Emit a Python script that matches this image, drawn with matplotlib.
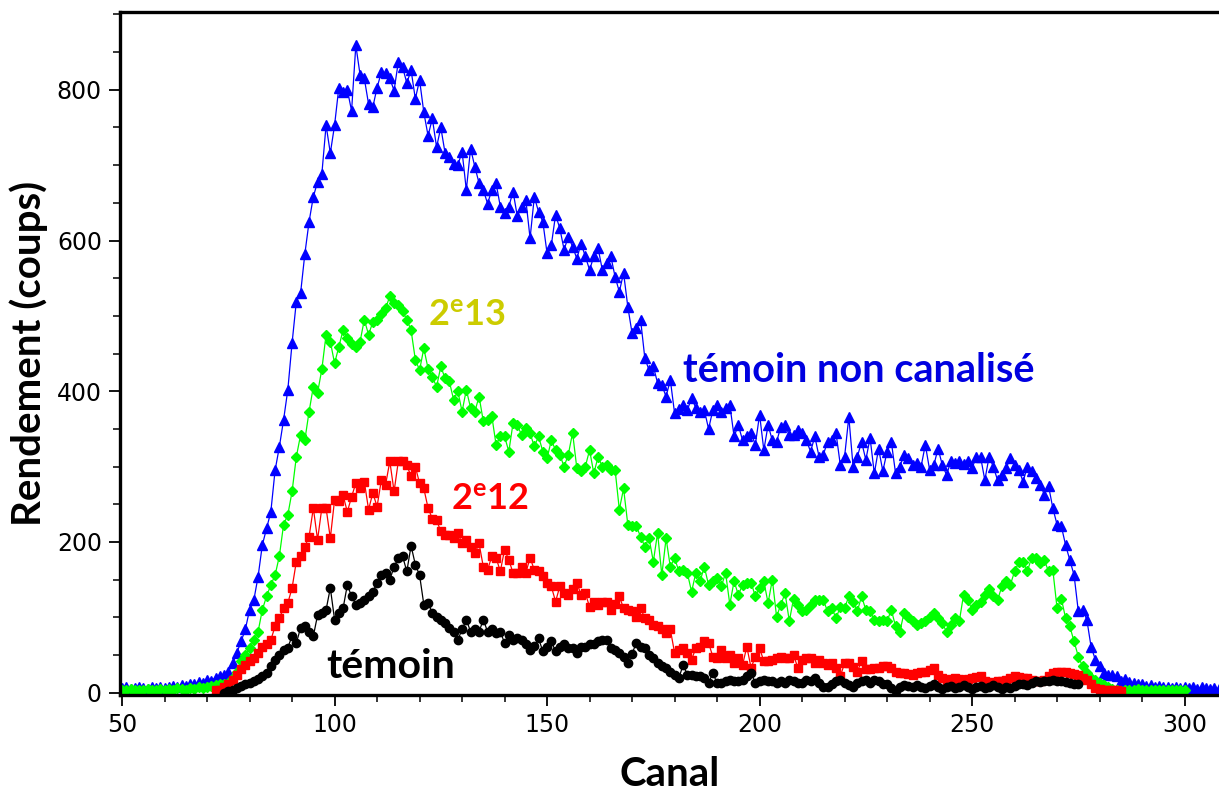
import numpy as np
import matplotlib
matplotlib.use("Agg")
import matplotlib.pyplot as plt
from matplotlib.ticker import MultipleLocator

# rendement par canal (lecture du graphe), un point par canal
blue_start = 50
blue = [6, 7, 5, 6, 7, 6, 5, 7, 6, 8,
        6, 7, 9, 8, 10, 9, 12, 11, 14, 13,
        17, 16, 20, 22, 24, 28, 39, 53, 68, 84,
        110, 123, 154, 196, 218, 240, 295, 326, 362, 402,
        464, 519, 530, 582, 625, 658, 678, 688, 753, 716,
        753, 803, 797, 800, 772, 859, 820, 815, 781, 777,
        803, 823, 822, 815, 799, 837, 830, 809, 826, 788,
        813, 770, 739, 762, 724, 750, 716, 711, 702, 700,
        718, 667, 722, 698, 676, 667, 649, 667, 676, 645,
        636, 645, 665, 632, 645, 654, 603, 658, 638, 625,
        583, 594, 634, 616, 588, 605, 592, 576, 596, 579,
        561, 579, 590, 561, 570, 579, 552, 532, 557, 512,
        477, 484, 495, 444, 428, 433, 411, 408, 393, 415,
        371, 376, 382, 375, 391, 378, 373, 375, 350, 375,
        382, 373, 378, 382, 340, 355, 335, 340, 344, 329,
        369, 322, 355, 335, 333, 353, 355, 342, 342, 349,
        344, 335, 320, 340, 313, 316, 333, 335, 344, 302,
        313, 366, 300, 313, 333, 309, 338, 291, 324, 294,
        320, 333, 291, 300, 316, 311, 302, 305, 300, 329,
        296, 302, 324, 302, 289, 307, 305, 307, 303, 307,
        298, 313, 313, 282, 313, 300, 282, 289, 298, 311,
        302, 296, 280, 300, 294, 285, 276, 263, 274, 245,
        223, 221, 196, 176, 156, 108, 110, 97, 61, 44,
        35, 26, 24, 23, 22, 16, 18, 14, 13, 11,
        12, 9, 10, 8, 9, 7, 8, 6, 7, 6,
        8, 6, 7, 5, 7, 6, 5, 6, 5]

green_start = 50
green = [4, 3, 5, 4, 3, 4, 5, 3, 4, 5,
         4, 5, 4, 6, 5, 4, 6, 5, 7, 6,
         8, 9, 10, 11, 12, 13, 20, 28, 42, 50,
         59, 70, 81, 110, 128, 143, 156, 181, 223, 236,
         267, 313, 342, 335, 373, 406, 398, 429, 475, 466,
         437, 459, 481, 470, 463, 459, 466, 495, 475, 492,
         495, 503, 510, 526, 517, 515, 506, 495, 481, 442,
         428, 457, 430, 419, 406, 433, 417, 413, 389, 400,
         373, 402, 378, 373, 393, 360, 362, 367, 329, 340,
         340, 320, 358, 355, 342, 351, 344, 327, 340, 320,
         311, 335, 322, 316, 300, 316, 345, 298, 294, 300,
         322, 291, 313, 300, 302, 296, 296, 243, 271, 223,
         221, 221, 207, 194, 205, 174, 212, 156, 205, 167,
         179, 161, 163, 159, 134, 159, 148, 167, 143, 148,
         152, 141, 159, 117, 148, 130, 143, 146, 146, 128,
         139, 148, 119, 150, 101, 117, 132, 95, 125, 117,
         108, 110, 117, 123, 123, 123, 108, 112, 99, 114,
         112, 128, 121, 108, 128, 110, 108, 97, 95, 97,
         95, 110, 88, 81, 106, 101, 95, 90, 92, 95,
         100, 106, 99, 92, 81, 90, 99, 95, 130, 123,
         110, 117, 121, 130, 137, 128, 123, 141, 148, 143,
         161, 173, 174, 161, 179, 179, 172, 176, 161, 163,
         112, 125, 99, 88, 68, 48, 35, 26, 20, 17,
         13, 10, 8, 5, 3, 2, 3, 4, 3, 5,
         3, 4, 3, 4, 3, 4, 3, 3, 4, 3,
         3]

red_start = 72
red = [3, 4, 8, 11, 17, 24, 31, 37,
       42, 46, 53, 61, 64, 70, 88, 99, 112, 119,
       139, 174, 181, 194, 207, 245, 203, 245, 245, 205,
       256, 254, 262, 240, 260, 278, 271, 280, 243, 265,
       247, 282, 276, 307, 267, 307, 307, 302, 287, 300,
       278, 271, 245, 231, 229, 214, 209, 209, 205, 212,
       198, 203, 194, 185, 198, 167, 163, 181, 179, 161,
       190, 176, 159, 159, 167, 159, 179, 163, 161, 155,
       146, 141, 121, 141, 132, 130, 137, 146, 130, 132,
       114, 121, 117, 121, 121, 110, 118, 128, 112, 110,
       108, 101, 112, 99, 97, 90, 88, 84, 79, 84,
       53, 57, 59, 53, 44, 59, 61, 68, 66, 48,
       46, 57, 46, 50, 39, 46, 37, 61, 33, 48,
       59, 42, 42, 44, 46, 48, 46, 46, 50, 33,
       44, 46, 46, 39, 44, 39, 37, 39, 33, 22,
       39, 39, 34, 28, 42, 31, 31, 33, 33, 35,
       35, 33, 28, 26, 26, 25, 24, 26, 27, 28,
       30, 33, 24, 20, 15, 18, 19, 18, 17, 18,
       19, 21, 22, 16, 13, 14, 15, 16, 17, 20,
       22, 21, 20, 19, 17, 15, 16, 17, 22, 26,
       27, 28, 27, 26, 25, 24, 20, 17, 12, 6,
       5, 4, 4, 3, 3, 2]

black_start = 74
black = [0, 2, 4, 6, 9, 11,
         13, 15, 18, 22, 26, 35, 44, 50, 57, 60,
         75, 66, 86, 88, 81, 75, 103, 106, 110, 139,
         97, 106, 112, 143, 128, 117, 119, 123, 128, 134,
         146, 156, 159, 150, 167, 179, 181, 161, 195, 170,
         156, 117, 119, 106, 101, 97, 92, 86, 81, 70,
         84, 97, 81, 84, 81, 97, 81, 84, 79, 81,
         66, 77, 70, 72, 70, 64, 57, 62, 72, 55,
         61, 68, 55, 61, 64, 59, 59, 53, 61, 61,
         64, 64, 68, 70, 70, 59, 57, 53, 48, 39,
         52, 66, 61, 59, 50, 46, 39, 35, 33, 28,
         24, 19, 37, 24, 24, 22, 22, 19, 13, 26,
         13, 13, 15, 17, 15, 15, 17, 22, 26, 13,
         15, 17, 15, 15, 13, 15, 13, 17, 15, 13,
         13, 17, 15, 19, 13, 8, 8, 11, 15, 17,
         13, 10, 8, 13, 15, 17, 13, 17, 15, 11,
         11, 6, 2, 8, 10, 9, 7, 10, 8, 6,
         9, 11, 8, 5, 7, 9, 6, 8, 10, 7,
         5, 8, 9, 6, 8, 10, 7, 5, 8, 6,
         9, 11, 12, 10, 13, 15, 14, 16, 15, 17,
         16, 15, 14, 13, 12, 11]

plt.rcParams['mathtext.fontset'] = 'custom'
plt.rcParams['mathtext.bf'] = 'Lato:bold'
plt.rcParams['mathtext.rm'] = 'Lato'

fig = plt.figure(figsize=(12.19, 7.94), dpi=100)
ax = fig.add_axes([0.0984, 0.1247, 0.9016, 0.860])

series = [
    (blue_start, blue, '#0000ff', '^', 6.5),
    (green_start, green, '#00ff00', 'D', 5.0),
    (red_start, red, '#ff0000', 's', 6.0),
    (black_start, black, '#000000', 'o', 6.0),
]
for start, vals, col, mk, ms in series:
    xs = np.arange(start, start + len(vals))
    ax.plot(xs, vals, color=col, lw=0.9, marker=mk, ms=ms, mec=col, mfc=col)

ax.set_xlim(49.5, 308.1)
ax.set_ylim(-3, 903)
ax.xaxis.set_major_locator(MultipleLocator(50))
ax.xaxis.set_minor_locator(MultipleLocator(10))
ax.yaxis.set_major_locator(MultipleLocator(200))
ax.yaxis.set_minor_locator(MultipleLocator(50))
ax.tick_params(which='major', direction='out', length=8, width=1.3, labelsize=17)
ax.tick_params(which='minor', direction='out', length=5, width=1.1)
ax.tick_params(axis='x', pad=5)
ax.tick_params(axis='y', pad=5)

for side in ['left', 'bottom', 'top']:
    ax.spines[side].set_linewidth(2.4)
ax.spines['right'].set_visible(False)

ax.set_xlabel('Canal', fontsize=29, fontweight='bold', family='Lato', labelpad=14)
ax.set_ylabel('Rendement (coups)', fontsize=29, fontweight='bold', family='Lato', labelpad=6)

ax.text(182, 412, 'témoin non canalisé', color='#0000e0', fontsize=28.5,
        fontweight='bold', family='Lato', va='baseline')
ax.text(122, 487, r'$\mathbf{2^{e}13}$', color='#cccc00', fontsize=26, va='baseline')
ax.text(127.5, 243, r'$\mathbf{2^{e}12}$', color='#ff0000', fontsize=26, va='baseline')
ax.text(98, 20, 'témoin', color='#000000', fontsize=29.5,
        fontweight='bold', family='Lato', va='baseline')

fig.savefig('out.png', dpi=100)
